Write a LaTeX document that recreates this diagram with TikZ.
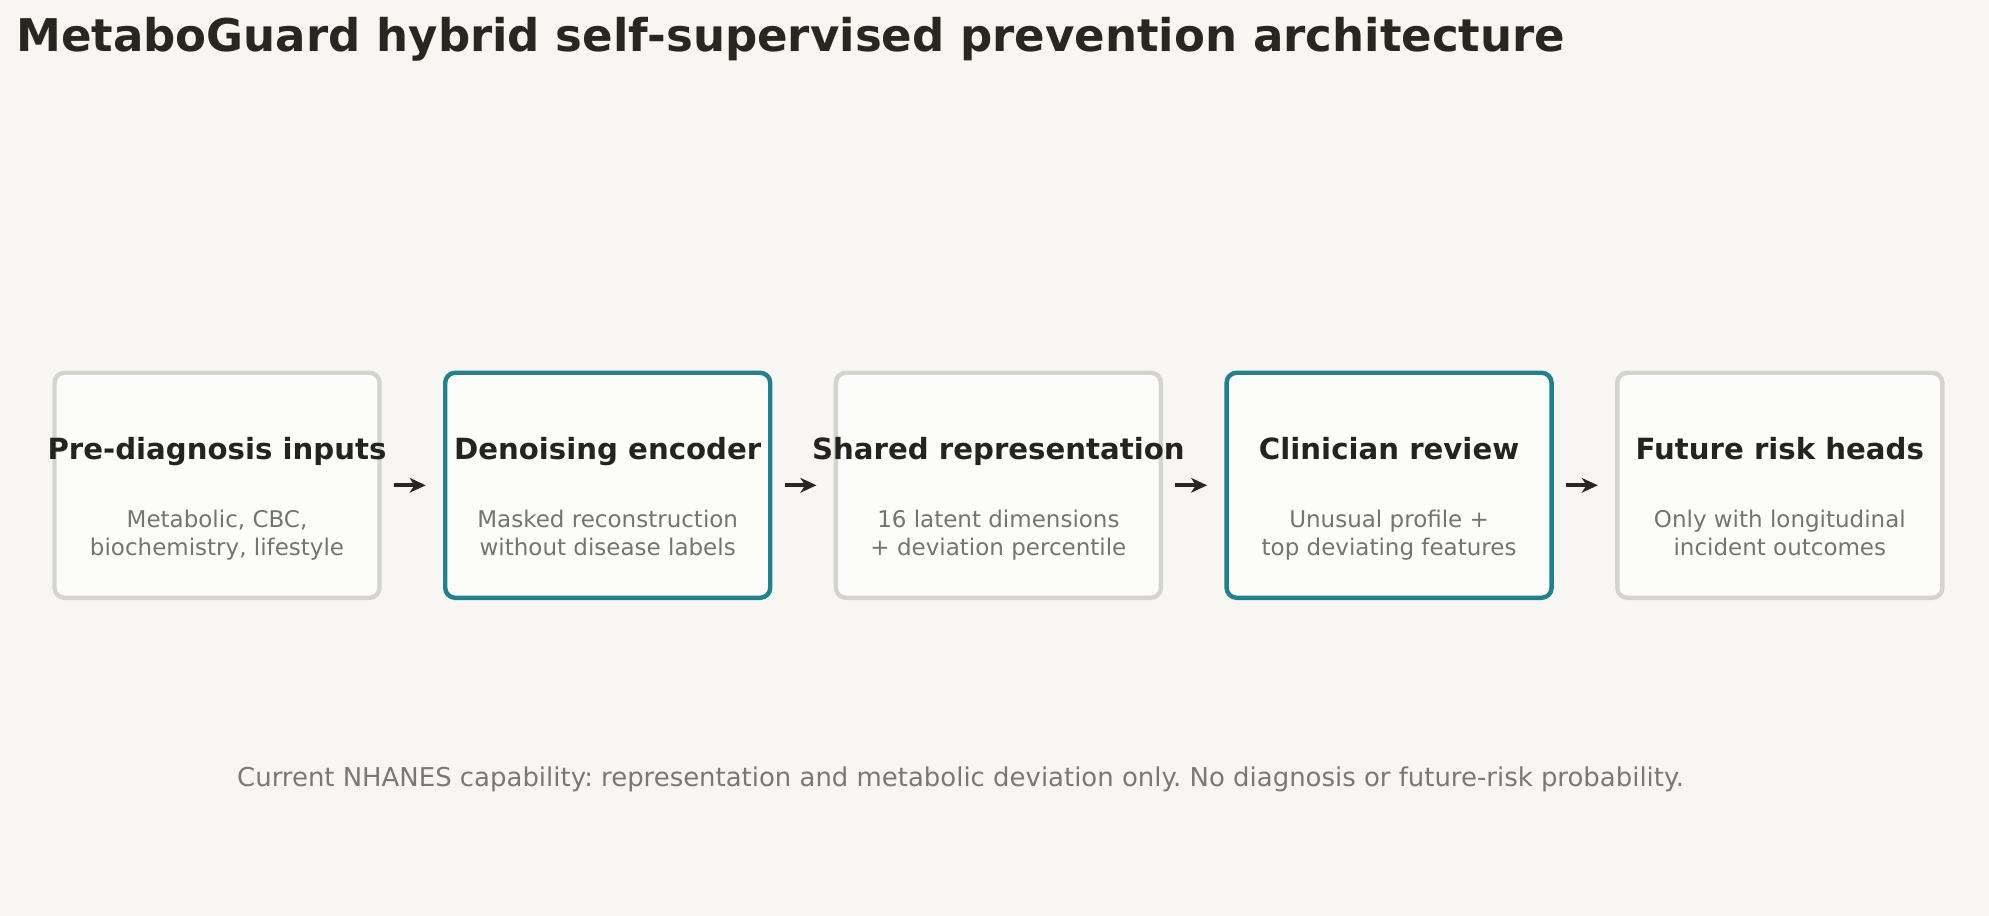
\documentclass[tikz,border=0pt]{standalone}
\usepackage{fontspec}
\setmainfont{DejaVu Sans}
\usetikzlibrary{arrows.meta}
\frenchspacing
\definecolor{bgc}{HTML}{F7F6F2}
\definecolor{boxfill}{HTML}{FCFCFA}
\definecolor{grayline}{HTML}{D6D3CC}
\definecolor{tealline}{HTML}{22808B}
\definecolor{titlec}{HTML}{28271F}
\definecolor{headc}{HTML}{24231F}
\definecolor{subc}{HTML}{767470}
\definecolor{footc}{HTML}{7A7873}
\definecolor{arrowc}{HTML}{2A2722}
\tikzset{
  stagebox/.style={draw=grayline, fill=boxfill, line width=3.3pt, rounded corners=7.5pt,
    minimum width=243.75pt, minimum height=168.75pt, outer sep=0pt, inner sep=0pt},
  keybox/.style={stagebox, draw=tealline},
  headtext/.style={font=\fontsize{21.9}{26}\selectfont\bfseries, text=headc, inner sep=0pt, anchor=base},
  subtext/.style={font=\fontsize{17.25}{20.8}\selectfont, text=subc, inner sep=0pt, align=center, anchor=center},
  flow/.style={draw=arrowc, line width=3pt, -{Stealth[length=12pt,width=11pt,inset=3.5pt]},
    shorten <=10.9pt, shorten >=14.6pt}
}
\begin{document}
\begin{tikzpicture}[x=0.75pt,y=-0.75pt]
\fill[bgc] (0,0) rectangle (1989,916);
\useasboundingbox (0,0) rectangle (1989,916);

\node[anchor=base west, inner sep=0pt, font=\fontsize{33.8}{40}\selectfont\bfseries, text=titlec]
  (title) at (16,51.7) {MetaboGuard hybrid self-supervised prevention architecture};

\node[stagebox] (b1) at (217,485.3) {};
\node[keybox]   (b2) at (607.7,485.3) {};
\node[stagebox] (b3) at (998.4,485.3) {};
\node[keybox]   (b4) at (1389.1,485.3) {};
\node[stagebox] (b5) at (1779.8,485.3) {};

\node[headtext] (h1) at (217,459) {Pre-diagnosis inputs};
\node[headtext] (h2) at (607.7,459) {Denoising encoder};
\node[headtext] (h3) at (998.4,459) {Shared representation};
\node[headtext] (h4) at (1389.1,459) {Clinician review};
\node[headtext] (h5) at (1779.8,459) {Future risk heads};

\node[subtext] (s1) at (217,536.3) {\strut Metabolic, CBC,\\\strut biochemistry, lifestyle};
\node[subtext] (s2) at (607.7,536.3) {\strut Masked reconstruction\\\strut without disease labels};
\node[subtext] (s3) at (998.4,536.3) {\strut 16 latent dimensions\\\strut + deviation percentile};
\node[subtext] (s4) at (1389.1,536.3) {\strut Unusual profile +\\\strut top deviating features};
\node[subtext] (s5) at (1779.8,536.3) {\strut Only with longitudinal\\\strut incident outcomes};

\draw[flow] (b1.east) -- (b2.west);
\draw[flow] (b2.east) -- (b3.west);
\draw[flow] (b3.east) -- (b4.west);
\draw[flow] (b4.east) -- (b5.west);

\node[anchor=base, inner sep=0pt, font=\fontsize{19.45}{23}\selectfont, text=footc]
  (foot) at (960.5,786.7) {Current NHANES capability: representation and metabolic deviation only. No diagnosis or future-risk probability.};
\end{tikzpicture}
\end{document}
